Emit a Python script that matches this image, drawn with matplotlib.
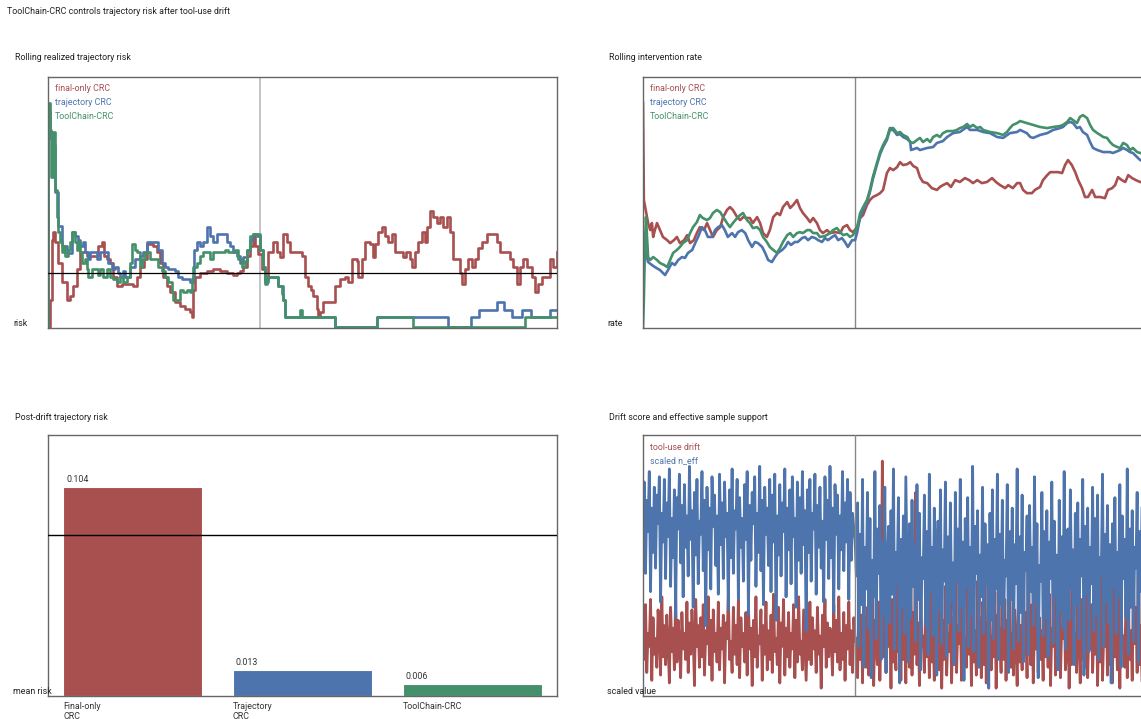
import numpy as np
import matplotlib
matplotlib.use("Agg")
import matplotlib.pyplot as plt

plt.rcParams['font.family'] = ['Roboto', 'DejaVu Sans']

# ---------------- data ----------------
HORIZON = 1200
DRIFT_T = 500
ALPHA = 0.08

# Rolling realized trajectory risk
risk_final_t = [0,5,9,12,17,24,33,45,52,59,68,75,92,106,118,127,132,139,146,153,163,174,186,200,210,217,226,233,243,248,257,264,271,281,288,299,311,323,335,340,342,347,358,375,389,406,422,436,446,453,460,469,476,483,488,495,505,512,519,531,540,547,554,564,571,594,599,606,613,620,625,634,637,641,648,670,677,689,700,707,717,729,731,740,747,759,766,771,778,788,795,802,811,818,830,837,844,854,858,865,872,882,889,894,901,908,917,924,931,941,948,955,964,972,976,983,990,1000,1007,1014,1023,1035,1049,1059,1066,1082,1089,1096,1106,1113,1120,1129,1141,1148,1155,1165,1177,1184,1191,1200]
risk_final = [0,0.041,0.130,0.142,0.126,0.096,0.067,0.041,0.046,0.061,0.086,0.111,0.105,0.105,0.120,0.126,0.105,0.101,0.096,0.075,0.061,0.064,0.064,0.061,0.075,0.090,0.101,0.123,0.123,0.120,0.111,0.096,0.075,0.061,0.052,0.038,0.031,0.027,0.022,0.015,0.056,0.075,0.081,0.083,0.086,0.083,0.081,0.078,0.081,0.083,0.090,0.105,0.120,0.135,0.120,0.108,0.086,0.071,0.112,0.126,0.112,0.104,0.138,0.127,0.112,0.112,0.105,0.075,0.061,0.056,0.046,0.027,0.015,0.022,0.037,0.037,0.061,0.071,0.074,0.067,0.101,0.098,0.075,0.101,0.126,0.123,0.104,0.123,0.141,0.149,0.135,0.126,0.138,0.112,0.112,0.104,0.112,0.101,0.089,0.112,0.127,0.141,0.126,0.149,0.172,0.164,0.155,0.163,0.149,0.163,0.141,0.101,0.101,0.081,0.064,0.086,0.101,0.089,0.101,0.118,0.126,0.138,0.138,0.126,0.112,0.112,0.101,0.089,0.064,0.089,0.101,0.089,0.075,0.052,0.064,0.075,0.075,0.101,0.089,0.111]

risk_traj_t = [0,1,5,12,17,24,33,45,57,64,71,75,83,87,94,99,106,116,123,134,141,151,158,165,170,177,182,193,205,217,224,233,252,259,269,276,283,299,306,316,335,342,344,351,358,365,375,377,382,389,398,417,422,429,436,446,453,460,469,476,483,493,500,507,512,519,535,542,554,559,670,677,771,776,941,943,995,998,1014,1016,1056,1059,1073,1075,1092,1094,1115,1118,1137,1139,1182,1184,1200]
risk_traj = [0,0.320,0.280,0.270,0.200,0.150,0.120,0.110,0.141,0.135,0.130,0.120,0.126,0.111,0.101,0.111,0.111,0.101,0.111,0.111,0.096,0.086,0.090,0.081,0.075,0.083,0.075,0.090,0.101,0.105,0.111,0.126,0.126,0.115,0.096,0.090,0.086,0.083,0.075,0.071,0.067,0.075,0.115,0.126,0.120,0.126,0.149,0.149,0.135,0.126,0.138,0.138,0.126,0.120,0.111,0.105,0.096,0.104,0.115,0.130,0.138,0.135,0.115,0.090,0.067,0.075,0.075,0.061,0.041,0.015,0.015,0.0,0.0,0.015,0.015,0.0,0.0,0.015,0.015,0.025,0.025,0.037,0.037,0.025,0.025,0.015,0.015,0.025,0.025,0.015,0.015,0.025,0.025]

risk_tool_t = [0,1,5,7,12,17,21,24,28,33,35,40,47,52,57,64,68,71,75,80,87,92,94,104,111,118,123,130,139,146,153,163,170,177,186,193,198,205,210,217,222,229,233,241,257,259,269,276,283,292,295,304,311,318,328,335,340,342,351,358,365,375,382,389,410,417,424,441,448,457,465,469,476,483,493,500,507,512,517,519,535,542,552,554,559,589,594,599,670,677,771,776,854,861,1120,1125,1200]
risk_tool = [0,0.333,0.293,0.223,0.289,0.204,0.164,0.141,0.126,0.111,0.120,0.105,0.115,0.126,0.141,0.126,0.115,0.126,0.111,0.096,0.101,0.086,0.075,0.086,0.086,0.078,0.086,0.075,0.086,0.075,0.071,0.067,0.075,0.067,0.075,0.096,0.123,0.115,0.111,0.090,0.101,0.111,0.111,0.101,0.101,0.090,0.083,0.075,0.067,0.052,0.041,0.041,0.056,0.052,0.056,0.052,0.071,0.090,0.096,0.105,0.111,0.111,0.101,0.111,0.111,0.115,0.111,0.115,0.101,0.090,0.098,0.115,0.135,0.138,0.138,0.115,0.090,0.064,0.074,0.075,0.075,0.061,0.049,0.041,0.015,0.015,0.025,0.015,0.015,0.0,0.0,0.015,0.015,0.0,0.0,0.015,0.015]

# Rolling intervention rate
rate_final_t = [0,2,5,9,12,17,21,24,28,33,40,47,57,64,73,80,87,97,104,111,120,127,134,144,151,158,165,174,182,189,198,205,212,222,229,236,245,252,259,269,276,283,292,299,307,316,323,330,340,347,354,363,370,377,387,394,401,410,417,424,434,441,453,465,472,481,488,495,505,512,519,528,535,542,552,559,566,575,582,590,599,606,613,623,630,637,646,653,660,670,681,693,700,707,717,726,736,747,759,769,778,788,799,811,823,832,842,854,861,872,882,889,896,905,917,924,936,943,953,960,969,979,988,995,1002,1011,1019,1026,1035,1042,1049,1059,1066,1078,1089,1096,1106,1113,1120,1129,1137,1144,1153,1162,1172,1186,1200]
rate_final = [0.986,0.561,0.530,0.486,0.460,0.429,0.460,0.399,0.429,0.460,0.429,0.399,0.385,0.372,0.385,0.399,0.372,0.385,0.407,0.372,0.385,0.416,0.442,0.429,0.460,0.429,0.399,0.429,0.442,0.486,0.517,0.530,0.517,0.486,0.473,0.486,0.482,0.482,0.460,0.486,0.460,0.416,0.399,0.429,0.486,0.504,0.495,0.530,0.552,0.526,0.539,0.561,0.526,0.504,0.482,0.464,0.482,0.460,0.429,0.416,0.429,0.416,0.420,0.416,0.442,0.451,0.429,0.420,0.442,0.482,0.495,0.539,0.561,0.574,0.583,0.591,0.605,0.679,0.701,0.692,0.705,0.727,0.714,0.718,0.727,0.710,0.701,0.661,0.640,0.635,0.613,0.605,0.618,0.626,0.635,0.618,0.648,0.640,0.657,0.648,0.635,0.648,0.635,0.640,0.657,0.640,0.626,0.613,0.626,0.613,0.635,0.635,0.605,0.591,0.591,0.605,0.618,0.648,0.670,0.683,0.683,0.683,0.679,0.714,0.736,0.714,0.683,0.648,0.613,0.574,0.574,0.605,0.574,0.574,0.569,0.605,0.613,0.626,0.661,0.648,0.640,0.670,0.657,0.648,0.640,0.635,0.635]

rate_traj_t = [0,5,12,21,28,40,52,59,68,75,83,92,99,106,116,123,130,139,146,153,163,170,177,186,193,200,210,217,224,233,241,248,257,264,271,281,288,295,304,311,318,328,335,342,349,358,365,375,382,389,398,406,413,422,429,436,446,453,460,469,476,483,493,500,505,512,519,528,535,542,552,559,566,575,582,590,599,606,613,623,630,632,646,653,670,684,693,707,717,731,747,764,771,788,802,818,835,849,865,882,889,905,913,920,936,953,967,983,990,1000,1007,1014,1023,1030,1037,1047,1054,1061,1071,1085,1101,1108,1125,1132,1141,1148,1155,1165,1172,1186,1200]
rate_traj = [0.386,0.342,0.289,0.276,0.267,0.254,0.232,0.254,0.285,0.276,0.298,0.311,0.307,0.329,0.342,0.372,0.399,0.442,0.429,0.399,0.399,0.429,0.442,0.451,0.429,0.399,0.416,0.399,0.420,0.429,0.416,0.385,0.355,0.377,0.372,0.355,0.329,0.298,0.289,0.311,0.329,0.342,0.355,0.377,0.364,0.377,0.377,0.394,0.399,0.385,0.399,0.394,0.385,0.377,0.394,0.385,0.399,0.407,0.385,0.394,0.377,0.355,0.385,0.385,0.420,0.486,0.517,0.552,0.596,0.653,0.719,0.762,0.793,0.824,0.868,0.868,0.846,0.850,0.837,0.828,0.815,0.780,0.789,0.780,0.789,0.793,0.811,0.819,0.837,0.854,0.859,0.881,0.868,0.868,0.859,0.854,0.837,0.833,0.854,0.859,0.868,0.854,0.837,0.833,0.846,0.854,0.868,0.876,0.881,0.898,0.903,0.898,0.876,0.881,0.859,0.846,0.815,0.789,0.780,0.771,0.771,0.767,0.780,0.789,0.780,0.771,0.767,0.749,0.736,0.727,0.723]

rate_tool_t = [0,2,5,7,12,17,24,33,40,50,57,64,71,80,87,94,104,111,118,127,134,141,151,158,165,174,182,189,198,205,212,222,229,236,245,252,259,269,276,283,292,299,307,316,323,330,340,347,354,363,370,377,387,394,401,410,417,429,441,448,457,465,472,481,488,495,505,512,519,528,535,542,552,559,566,575,582,590,599,606,613,623,630,637,646,653,660,670,677,684,693,700,707,717,731,740,747,755,764,771,778,788,795,802,818,835,849,858,865,872,882,889,896,905,920,936,953,967,983,990,1000,1007,1014,1023,1030,1037,1047,1054,1061,1071,1078,1085,1094,1101,1108,1118,1125,1132,1141,1148,1155,1165,1172,1186,1200]
rate_tool = [0.0,0.123,0.386,0.486,0.311,0.298,0.311,0.298,0.285,0.276,0.267,0.298,0.329,0.342,0.355,0.372,0.385,0.416,0.442,0.464,0.495,0.482,0.473,0.482,0.504,0.517,0.508,0.486,0.460,0.442,0.460,0.482,0.495,0.504,0.473,0.460,0.438,0.442,0.429,0.399,0.377,0.355,0.342,0.329,0.351,0.377,0.407,0.416,0.399,0.416,0.420,0.416,0.429,0.429,0.416,0.416,0.399,0.403,0.416,0.429,0.438,0.420,0.407,0.412,0.399,0.407,0.442,0.504,0.530,0.561,0.605,0.662,0.727,0.771,0.802,0.833,0.876,0.876,0.854,0.859,0.846,0.837,0.815,0.811,0.824,0.833,0.815,0.828,0.815,0.837,0.846,0.837,0.854,0.863,0.863,0.868,0.876,0.881,0.894,0.881,0.890,0.876,0.881,0.868,0.859,0.854,0.846,0.859,0.876,0.890,0.898,0.907,0.903,0.898,0.890,0.881,0.876,0.881,0.885,0.890,0.903,0.920,0.911,0.898,0.925,0.933,0.920,0.890,0.868,0.854,0.846,0.837,0.833,0.815,0.802,0.793,0.789,0.811,0.802,0.780,0.789,0.771,0.767,0.762,0.758]

# Post-drift mean trajectory risk
methods = ["Final-only\nCRC", "Trajectory\nCRC", "ToolChain-CRC"]
post_drift_risk = [0.104, 0.013, 0.006]

# Drift score and effective sample support (scaled, x100)
neff_pre = [58,82,47,75,63,86,40,72,55,80, 49,77,66,84,36,70,59,83,45,74, 61,87,42,68,53,79,30,76,64,85,
            51,73,38,81,57,69,46,88,60,71, 34,78,54,83,43,67,62,86,48,75, 27,80,56,72,41,84,65,77,50,69,
            39,85,58,74,45,82,61,70,33,79, 53,87,47,71,64,83,37,76,57,68, 44,81,60,86,31,73,52,78,66,84,
            42,70,55,88,48,75,35,80,62,72, 50,83,40,77,59,85,29,69,54,81, 46,74,63,87,38,72,56,79,43,84,
            61,68,34,82,52,76,47,86,58,71, 25,79,55,83,44,70,64,85,39,73, 57,80,49,67,36,84,60,75,45,88,
            53,72,32,81,62,77,41,69,56,86, 48,74,59,83,37,78,52,70,64,60]
neff_post = [46,74,19,62,35,83,11,57,41,78, 26,68,7,52,38,86,22,64,47,73, 14,59,31,80,9,50,65,28,71,39,
             87,18,55,43,76,5,60,34,69,24, 84,48,13,66,30,75,42,58,21,81, 37,70,10,53,45,77,27,63,16,85,
             40,57,23,72,49,8,67,33,79,20, 56,44,82,15,61,28,74,36,51,12, 78,44,64,25,83,34,59,6,68,42,
             76,19,57,31,88,17,65,47,71,11, 54,38,80,24,66,43,58,3,70,29, 79,22,60,41,85,14,62,35,75,26,
             52,46,81,9,63,37,72,18,58,43, 87,21,61,32,77,13,55,48,69,16, 73,40,57,27,84,36,66,7,50,44,
             78,23,63,30,71,15,59,45,82,20, 67,38,54,10,75,33,61,26,86,18, 48,64,29,79,41,56,12,70,35,74,
             22,60,46,83,8,65,39,72,17,57, 43,80,25,68,31,77,14,53,47,85, 19,62,36,73,28,58,5,66,42,76,
             24,55,38,81,11,69,45,60,30,87, 16,64,34,71,21,57,49,78,13,63, 40,75,27,59,44,82,9,67,35,70]
drift_pre = [28,14,35,9,24,19,37,6,30,16, 22,11,33,25,8,38,15,27,12,31, 20,5,34,17,26,10,39,13,29,21,
             7,32,18,24,14,36,9,28,16,33, 23,4,37,19,27,11,30,15,35,8, 25,20,38,12,29,6,33,17,24,13,
             36,10,26,18,31,5,28,22,39,14, 21,9,34,16,27,12,37,7,30,19, 24,13,32,8,35,18,26,4,29,15,
             38,11,23,20,33,6,27,16,36,10, 25,14,31,9,39,17,22,12,34,5, 28,19,37,8,26,15,32,11,24,18,
             35,7,29,13,38,16,21,10,33,20, 6,27,14,36,12,30,18,25,9,34, 16,23,3,31,19,37,11,28,15,26,
             22,8,35,17,29,13,38,10,24,14, 32,6,27,18,36,12,25,9,30,21]
drift_post = [22,7,38,14,31,5,46,18,11,34, 8,27,16,41,4,29,20,12,36,6, 25,90,15,33,9,44,19,28,3,37,
              13,24,10,48,17,30,6,39,14,26, 5,35,21,11,43,8,32,16,78,12, 28,4,40,19,23,9,36,15,31,7,
              45,13,26,6,38,18,64,10,33,3, 29,14,42,8,24,17,37,5,30,12, 50,9,27,20,35,6,41,15,22,11,
              60,16,32,4,39,13,25,8,44,18, 30,7,36,12,47,5,28,21,34,10, 23,15,40,3,31,19,26,9,55,14,
              37,6,29,17,43,11,24,8,33,20, 4,38,13,27,10,46,16,32,7,62, 21,12,35,5,28,18,41,9,30,14,
              25,6,44,15,33,11,39,4,26,19, 48,8,31,13,36,7,27,22,42,10, 17,34,3,29,12,45,16,24,9,58,
              20,5,37,14,32,11,40,7,28,18, 35,9,26,16,43,4,30,13,52,6, 24,19,38,8,33,12,27,5,46,15,
              29,10,41,3,36,17,23,11,39,7, 31,14,25,6,44,20,34,9,57,12, 27,4,37,16,30,8,42,13,26,2]

# ---------------- style ----------------
RED = "#A84F4F"
BLUE = "#4E74AD"
GREEN = "#44906A"
SPINE = "#666666"
FS = 6.4

W, H = 1141, 719
fig = plt.figure(figsize=(W / 100, H / 100), dpi=100)

def axes_px(x0, y0, x1, y1):
    return fig.add_axes([x0 / W, 1 - y1 / H, (x1 - x0) / W, (y1 - y0) / H])

def style(ax):
    for s in ax.spines.values():
        s.set_color(SPINE)
        s.set_linewidth(1.0)
    ax.set_xticks([])
    ax.set_yticks([])

def ftext(x, y, s, **kw):
    fig.text(x / W, 1 - y / H, s, va="center", ha="left", fontsize=FS, color="#222222", **kw)

ftext(7, 12, "ToolChain-CRC controls trajectory risk after tool-use drift")

# --- top-left
ax1 = axes_px(48, 77, 557, 328)
style(ax1)
ax1.axvline(DRIFT_T, color="#c4c4c4", lw=1.4, zorder=1)
for tt, vv, c in [(risk_final_t, risk_final, RED), (risk_traj_t, risk_traj, BLUE), (risk_tool_t, risk_tool, GREEN)]:
    ax1.plot(tt, vv, color=c, lw=1.9, zorder=2, drawstyle="steps-post")
ax1.axhline(ALPHA, color="black", lw=0.9, zorder=3)
ax1.set_xlim(0, HORIZON)
ax1.set_ylim(-0.001, 0.371)
for i, (lab, c) in enumerate([("final-only CRC", RED), ("trajectory CRC", BLUE), ("ToolChain-CRC", GREEN)]):
    ax1.text(0.0138, 0.956 - i * 0.0558, lab, transform=ax1.transAxes, color=c, fontsize=FS, va="center")
ftext(15, 58, "Rolling realized trajectory risk")
ftext(13, 324, "risk")

# --- top-right
ax2 = axes_px(643, 77, 1152, 328)
style(ax2)
ax2.axvline(DRIFT_T, color="#888888", lw=1.0, zorder=1)
ax2.plot(rate_final_t, rate_final, color=RED, lw=1.9, zorder=2)
ax2.plot(rate_traj_t, rate_traj, color=BLUE, lw=1.9, zorder=2)
ax2.plot(rate_tool_t, rate_tool, color=GREEN, lw=1.9, zorder=2)
ax2.set_xlim(0, HORIZON)
ax2.set_ylim(0, 1.1)
for i, (lab, c) in enumerate([("final-only CRC", RED), ("trajectory CRC", BLUE), ("ToolChain-CRC", GREEN)]):
    ax2.text(0.0138, 0.956 - i * 0.0558, lab, transform=ax2.transAxes, color=c, fontsize=FS, va="center")
ftext(609, 58, "Rolling intervention rate")
ftext(607, 324, "rate")

# --- bottom-left
ax3 = axes_px(48, 435, 557, 696)
for s in ax3.spines.values():
    s.set_color(SPINE)
    s.set_linewidth(1.0)
xs = np.arange(len(methods))
bw = 0.82
ax3.bar(xs, post_drift_risk, width=bw, color=[RED, BLUE, GREEN], edgecolor="white", linewidth=0.8, zorder=2)
ax3.axhline(ALPHA, color="black", lw=1.0, zorder=3)
for x, v in zip(xs, post_drift_risk):
    ax3.annotate(f"{v:.3f}", xy=(x - bw / 2, v), xytext=(3, 3), textcoords="offset pixels",
                 fontsize=FS, color="#333333", ha="left", va="bottom")
ax3.set_xlim(-0.5, 2.5)
ax3.set_ylim(0, 0.13)
ax3.set_yticks([])
ax3.set_xticks(xs - bw / 2)
ax3.set_xticklabels(methods, ha="left", fontsize=FS, color="#333333")
ax3.tick_params(axis="x", length=0, pad=4)
ftext(15, 417, "Post-drift trajectory risk")
ftext(13, 692, "mean risk")

# --- bottom-right
ax4 = axes_px(643, 435, 1152, 696)
style(ax4)
drift_vals = drift_pre + drift_post
neff_vals = neff_pre + neff_post
drift_t = np.concatenate([np.linspace(0, DRIFT_T, len(drift_pre)), np.linspace(DRIFT_T + 3, HORIZON, len(drift_post))])
neff_t = np.concatenate([np.linspace(0, DRIFT_T, len(neff_pre)), np.linspace(DRIFT_T + 3, HORIZON, len(neff_post))])
ax4.axvline(DRIFT_T, color="#888888", lw=1.0, zorder=3)
ax4.plot(drift_t, drift_vals, color=RED, lw=2.0, zorder=1)
ax4.plot(neff_t, neff_vals, color=BLUE, lw=2.0, zorder=2)
ax4.set_xlim(0, HORIZON)
ax4.set_ylim(0, 100)
ax4.text(0.0138, 0.954, "tool-use drift", transform=ax4.transAxes, color=RED, fontsize=FS, va="center")
ax4.text(0.0138, 0.900, "scaled n_eff", transform=ax4.transAxes, color=BLUE, fontsize=FS, va="center")
ftext(609, 417, "Drift score and effective sample support")
ftext(607, 692, "scaled value")

fig.savefig("out.png", dpi=100)
